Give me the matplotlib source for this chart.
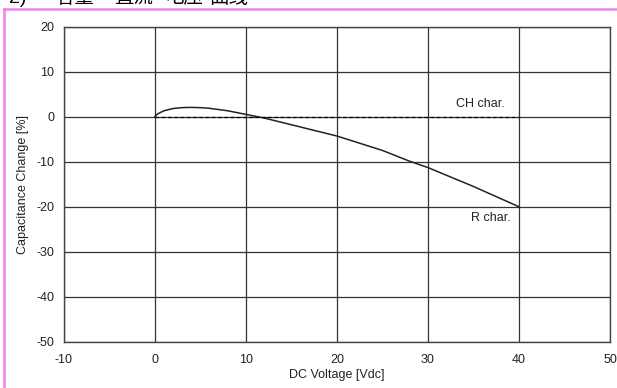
import matplotlib
matplotlib.use("Agg")
import matplotlib.pyplot as plt
from matplotlib.lines import Line2D

plt.rcParams['font.family'] = ['Liberation Sans', 'Noto Sans CJK SC', 'DejaVu Sans']
plt.rcParams['axes.unicode_minus'] = False

# R char. curve
volts = [0, 0.3, 1, 2, 3, 4, 5, 6, 8, 10, 12, 15, 20, 25, 28, 30, 35, 40]
cap_change = [0, 0.6, 1.3, 1.8, 2.0, 2.05, 2.0, 1.85, 1.3, 0.5, -0.3, -1.8,
              -4.3, -7.5, -9.9, -11.3, -15.5, -20]

# CH char. is flat at 0
ch_volts = [0, 40]
ch_change = [0, 0]

xticks = [-10, 0, 10, 20, 30, 40, 50]
yticks = [20, 10, 0, -10, -20, -30, -40, -50]

# title pieces (only their lower half shows at the top edge)
title_parts = ["2)", "容量", "直流", "电压", "曲线"]
title_x = [9, 55, 114, 165, 209]

fig = plt.figure(figsize=(6.17, 3.88), dpi=100)
ax = fig.add_axes([0.1034, 0.1186, 0.8853, 0.8131])

ax.plot(volts, cap_change, color="#222222", lw=1.1)
ax.plot(ch_volts, ch_change, color="black", lw=0.9, linestyle=(0, (3, 2)))

ax.set_xlim(-10, 50)
ax.set_ylim(-50, 20)
ax.set_xticks(xticks)
ax.set_yticks(yticks)
ax.grid(True, color="#333333", lw=0.9)
ax.set_axisbelow(True)
ax.tick_params(length=0, labelsize=9, colors="#222222")
ax.tick_params(axis="x", pad=9)
ax.tick_params(axis="y", pad=7)
for s in ax.spines.values():
    s.set_color("#444444")
    s.set_linewidth(1.0)

ax.text(38.4, 2.8, "CH char.", ha="right", va="center", fontsize=9, color="#222222")
ax.text(39.1, -22.6, "R char.", ha="right", va="center", fontsize=9, color="#222222")

ax.set_xlabel("DC Voltage [Vdc]", fontsize=9, color="#222222", labelpad=2)
ax.set_ylabel("Capacitance Change [%]", fontsize=9, color="#222222", labelpad=5)

# pink frame (left and top edges visible) and clipped title above it
fig.add_artist(Line2D([3.5 / 617, 3.5 / 617], [0, 1 - 8.5 / 388], color="#ee82ee", lw=1.8))
fig.add_artist(Line2D([3.5 / 617, 1], [1 - 8.5 / 388, 1 - 8.5 / 388], color="#ee82ee", lw=1.8))
for part, px in zip(title_parts, title_x):
    fig.text(px / 617, 1 - 7 / 388, part, fontsize=14, va="bottom", ha="left", color="black")

fig.savefig("out.png", dpi=100)
